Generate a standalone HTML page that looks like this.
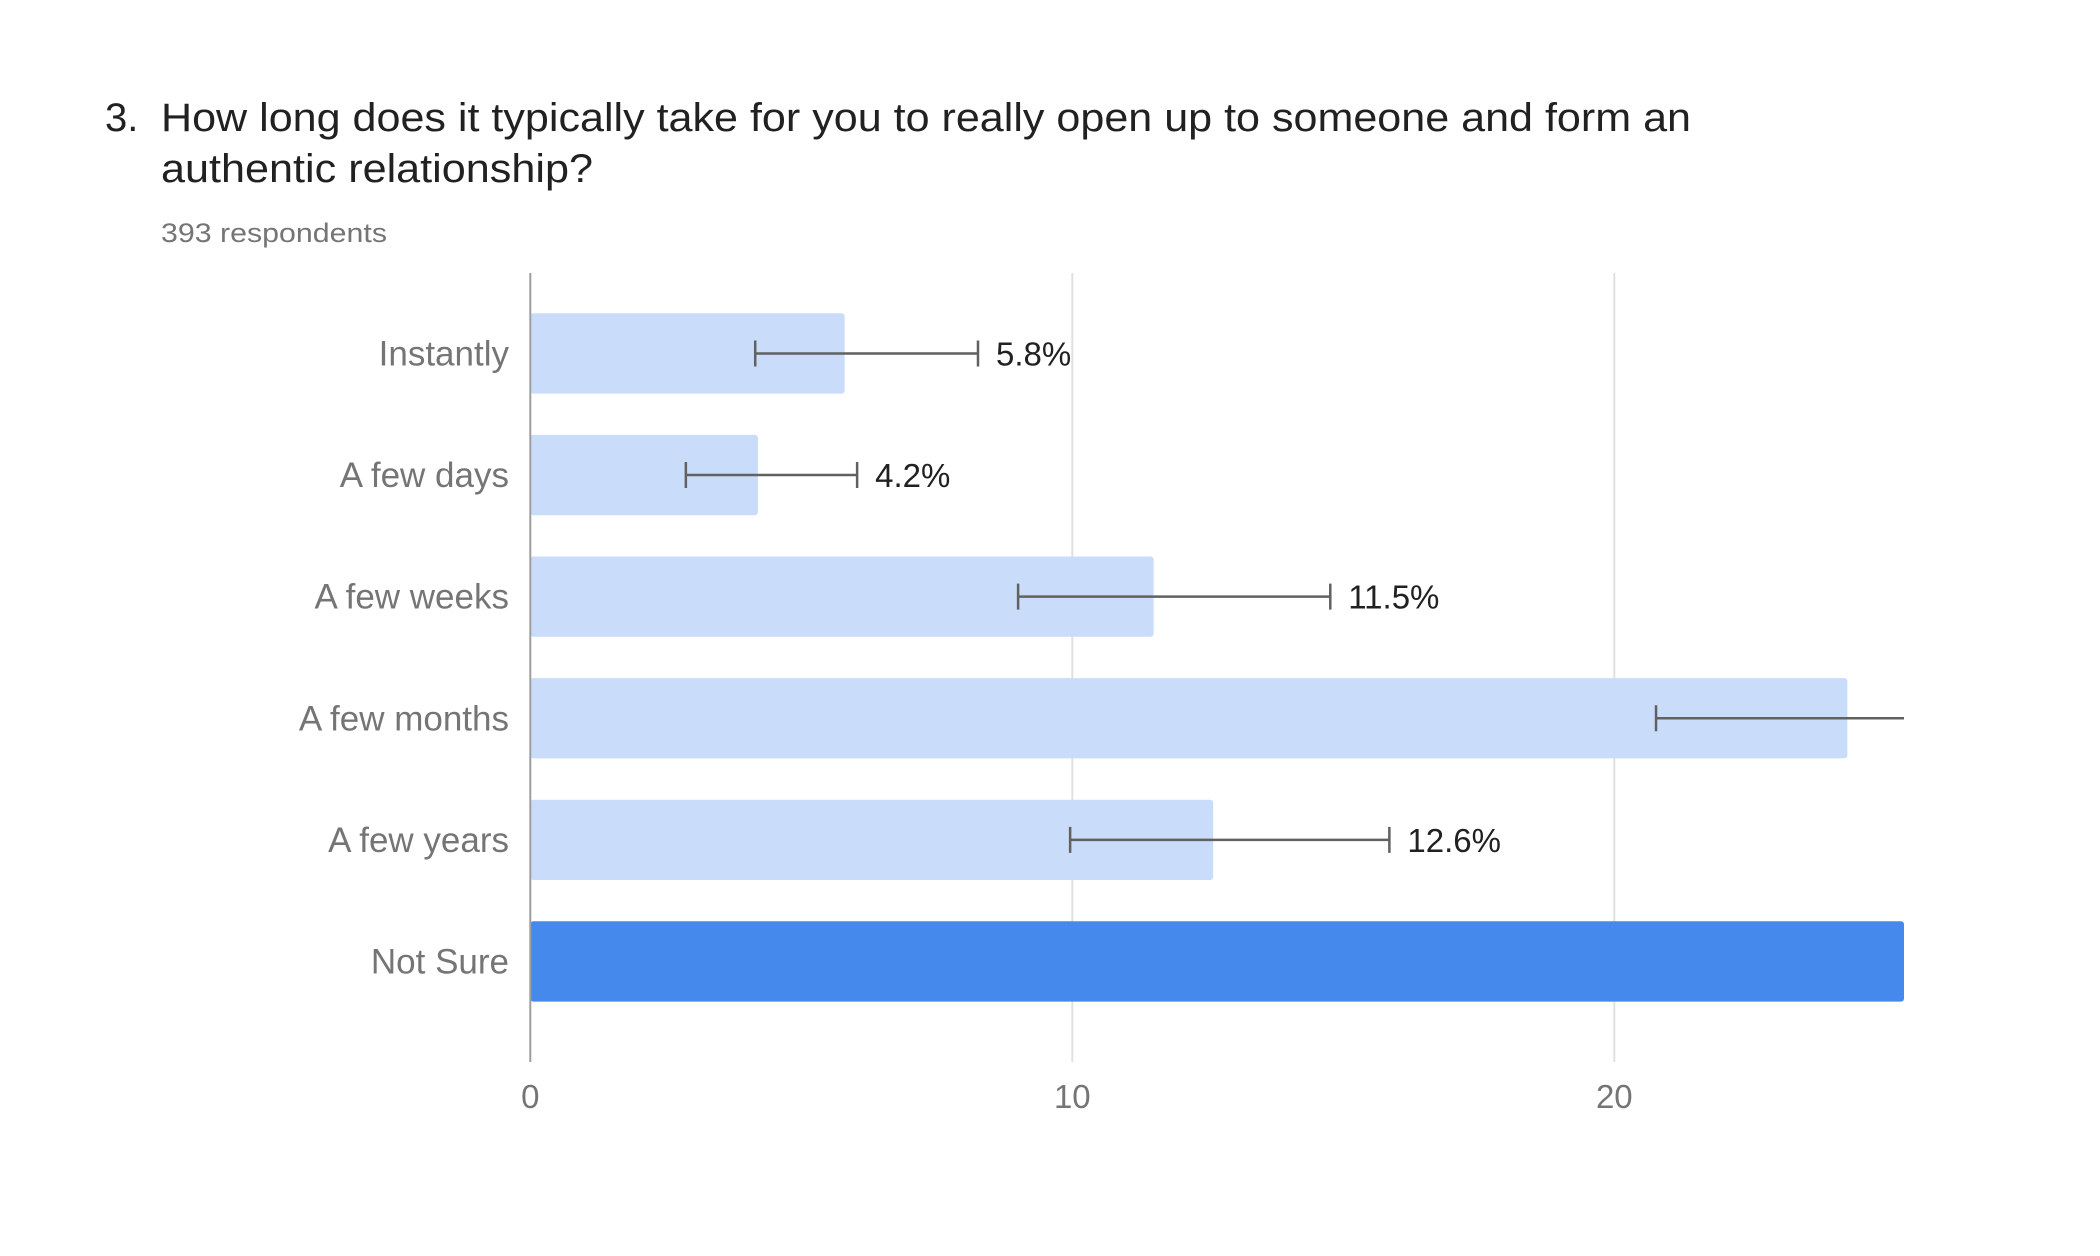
<!DOCTYPE html>
<html><head><meta charset="utf-8"><style>
html,body{margin:0;padding:0;background:#fff;}
svg{display:block;font-family:"Liberation Sans",Arial,sans-serif;}
</style></head><body>
<svg id="chart" width="2100" height="1256" viewBox="0 0 2100 1256" xmlns="http://www.w3.org/2000/svg">
<text x="105" y="131" font-size="40" fill="#212121">3.</text>
<text x="161" y="131" font-size="40" fill="#212121" textLength="1530" lengthAdjust="spacingAndGlyphs">How long does it typically take for you to really open up to someone and form an</text>
<text x="161" y="182" font-size="40" fill="#212121" textLength="432" lengthAdjust="spacingAndGlyphs">authentic relationship?</text>
<text x="161" y="242" font-size="27" fill="#757575" textLength="226" lengthAdjust="spacingAndGlyphs">393 respondents</text>
<g id="plot"></g>
</svg>
<script>
const categories = ["Instantly","A few days","A few weeks","A few months","A few years","Not Sure"];
const values = [5.8, 4.2, 11.5, 24.3, 12.6, 41.6];
const errLow = [4.15, 2.87, 9.0, 20.77, 9.96, null];
const errHigh = [8.26, 6.03, 14.76, 27.9, 15.85, null];
const valueLabels = ["5.8%","4.2%","11.5%","","12.6%",""];
const xTicks = [0, 10, 20];
const highlight = [false,false,false,false,false,true];

const NS = "http://www.w3.org/2000/svg";
const plot = document.getElementById('plot');
const x0 = 530.3, pxPerUnit = 54.2, xMaxPx = 1904;
const plotTop = 273, plotBottom = 1062, rowTop = 313.3, pitch = 121.6, barH = 80.3;
function xs(v){ return Math.min(x0 + v * pxPerUnit, xMaxPx); }
function ys(i){ return rowTop + i * pitch; }
function mk(tag, attrs){ const e = document.createElementNS(NS, tag); for (const k in attrs) e.setAttribute(k, attrs[k]); plot.appendChild(e); return e; }

xTicks.forEach((t) => {
  if (t !== 0) {
    const g = mk('line', {x1: xs(t), x2: xs(t), y1: plotTop, y2: plotBottom, stroke: '#e0e0e0', 'stroke-width': 2});
    
    
  }
  const tl = mk('text', {x: xs(t), y: 1108, 'font-size': 33, fill: '#757575', 'text-anchor': 'middle'});
  tl.textContent = t;
  
  
});

categories.forEach((c, i) => {
  const y = ys(i);
  const b = mk('rect', {x: x0, y: y, width: xs(values[i]) - x0, height: barH, rx: 3, fill: highlight[i] ? '#4589ec' : '#c9dcf9'});
  
  
  const lab = mk('text', {x: 509, y: y + barH / 2 + 12, 'font-size': 35, fill: '#757575', 'text-anchor': 'end'});
  lab.textContent = c;
  
  
  if (errLow[i] !== null) {
    const cy = y + barH / 2;
    const lx = xs(errLow[i]), hx = xs(errHigh[i]);
    const capHigh = (x0 + errHigh[i] * pxPerUnit <= xMaxPx) ? `M${hx},${cy-13}V${cy+13}` : '';
    const eg = mk('path', {d: `M${lx},${cy}H${hx}M${lx},${cy-13}V${cy+13}` + capHigh, stroke: '#616161', 'stroke-width': 2.5, fill: 'none'});
    
    
    if (valueLabels[i]) {
      const vl = mk('text', {x: hx + 18, y: cy + 12, 'font-size': 33, fill: '#212121'});
      vl.textContent = valueLabels[i];
      
      
    }
  }
});

const ax = mk('line', {x1: x0, x2: x0, y1: plotTop, y2: plotBottom, stroke: '#9e9e9e', 'stroke-width': 2});


</script>
</body></html>
